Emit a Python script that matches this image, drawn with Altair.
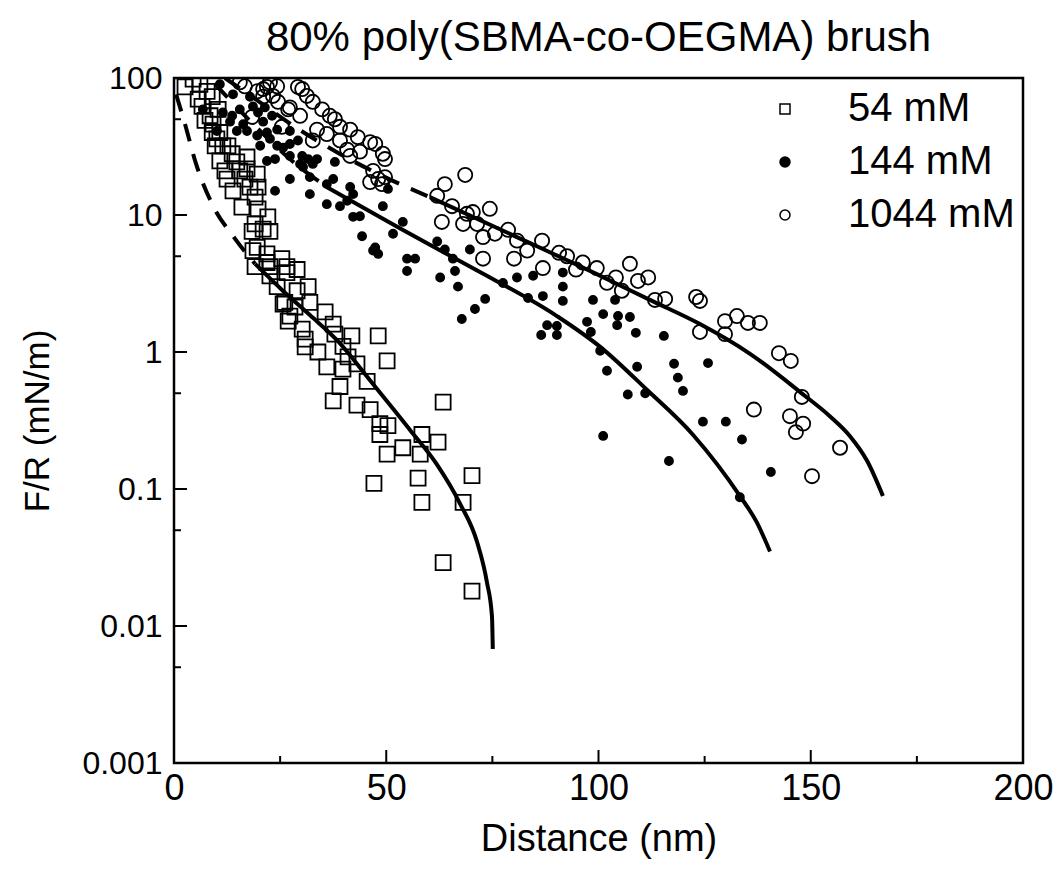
import altair as alt
import pandas as pd

# ---------------- data ----------------
# 54 mM (open squares)
sq_x = [4.5, 2.6, 6.1, 7.8, 5.7, 9.0, 6.6, 10.4, 8.5, 7.3, 9.2, 9.0, 10.8, 10.1, 11.5, 12.7, 9.7,
        13.7, 10.8, 14.8, 17.2, 12.0, 15.5, 17.2, 19.6, 12.5, 16.7, 13.9, 17.9, 19.8, 19.1, 16.0,
        19.8, 22.1, 19.1, 21.0, 18.4, 22.6, 19.6, 21.9, 25.4, 19.1, 22.6, 26.6, 18.6, 21.9, 22.6,
        26.6, 29.0, 24.3, 29.0, 31.6, 26.1, 32.0, 35.6, 27.3, 25.7, 28.5, 26.9, 30.2, 37.5,
        37.9, 30.9, 30.9, 33.9, 39.8, 41.9, 48.1, 36.0, 39.8, 41.0, 43.1, 50.2, 45.5, 39.1, 37.5,
        43.1, 46.2, 63.4, 48.5, 50.4, 48.5, 53.9, 58.4, 62.2, 50.2, 58.0, 70.2, 47.1, 57.5, 58.4,
        68.1, 63.4, 70.2]
sq_y = [98, 86, 90, 80, 70, 73, 62, 59, 53, 49, 46, 40, 40, 36, 32, 32, 32,
        28, 24.8, 24.4, 26.5, 21, 21, 21.7, 19.9, 18.3, 18.3, 15.0, 16.0, 16.0, 13.5, 11.4,
        11.1, 9.7, 8.6, 7.9, 7.6, 7.6, 5.8, 5.2, 4.8, 4.2, 4.2, 4.2, 5.5, 4.5, 3.6,
        3.8, 4.0, 3.0, 2.8, 3.0, 2.3, 2.3, 1.96, 1.83, 2.24, 2.13, 1.68, 1.47, 1.60,
        1.35, 1.24, 1.09, 1.0, 1.1, 1.31, 1.31, 0.78, 0.75, 0.92, 0.82, 0.86, 0.61, 0.56, 0.44,
        0.41, 0.38, 0.43, 0.30, 0.29, 0.25, 0.20, 0.25, 0.22, 0.18, 0.18, 0.125, 0.11, 0.12, 0.080,
        0.080, 0.029, 0.018]

# 144 mM (filled dots)
dot_x = [10.8, 13.9, 17.9, 6.8, 11.5, 13.7, 15.5, 18.6, 13.2, 16.3, 19.8, 21.0, 21.4, 23.1,
         10.1, 14.8, 17.2, 19.6, 21.9, 24.3, 27.3, 22.6, 20.3, 24.3, 25.7, 27.3, 29.2,
         21.9, 23.8, 27.3, 30.2, 31.6, 33.7, 29.7, 32.7, 30.4, 32.0, 27.3, 23.8, 32.0, 36.0,
         37.5, 37.9, 41.5, 42.2, 36.0, 39.1, 40.8, 49.2, 42.2, 43.8, 44.3, 47.4, 48.1, 46.9,
         51.6, 53.9, 50.4, 54.9, 54.9, 56.8, 62.0, 63.8, 65.7, 66.2, 62.7, 66.9, 69.7, 73.3,
         70.9, 67.8, 77.5, 80.8, 84.6, 83.4, 86.9, 91.6, 91.6, 91.6, 98.7, 101.1, 103.9, 104.6,
         107.4, 87.9, 90.2, 86.5, 90.2, 97.3, 98.2, 104.4, 108.8, 115.4, 100.4, 102.0, 109.1,
         117.8, 118.7, 119.9, 125.8, 106.9, 111.0, 101.1, 116.6, 124.6, 130.0, 133.8, 140.6,
         133.3]
dot_y = [90, 76, 73, 59, 56, 53, 59, 62, 48, 46, 56, 48, 61, 53,
         41, 41, 41, 38, 40, 42, 41, 36, 32, 32, 31, 33, 35,
         24.8, 25.6, 27, 27, 25.6, 25.6, 23.6, 23.6, 22.4, 18.9, 18.3, 15.0, 14.2, 16.8,
         18.3, 24.4, 16.0, 14.2, 12.0, 11.6, 12.7, 11.6, 9.7, 9.8, 7.0, 5.8, 5.2, 5.5,
         7.3, 8.9, 15.5, 4.8, 3.9, 4.8, 6.4, 5.6, 4.8, 3.9, 3.5, 3.0, 5.6, 2.44,
         2.06, 1.74, 3.19, 3.5, 3.6, 2.48, 2.56, 3.8, 3.0, 2.36, 2.40, 1.89, 2.40, 1.83,
         1.80, 1.57, 1.55, 1.33, 1.33, 1.66, 1.40, 1.57, 1.38, 1.31, 1.02, 0.73, 0.78,
         0.82, 0.65, 0.52, 0.83, 0.49, 0.50, 0.244, 0.16, 0.31, 0.31, 0.23, 0.133,
         0.087]

# 1044 mM (open circles)
circ_x = [15.5, 16.7, 19.6, 21.0, 22.6, 24.3, 21.9, 23.3, 21.0, 18.4, 24.5, 25.4, 26.9, 27.3,
          29.2, 30.2, 31.3, 32.7, 29.7, 34.9, 33.7, 36.7, 37.9, 36.0, 39.1, 41.5, 32.7, 39.1,
          43.3, 40.8, 43.8, 46.2, 47.4, 49.2, 49.7, 41.5, 46.9, 49.7, 46.2, 48.1, 49.0, 62.0,
          63.8, 68.6, 63.1, 65.5, 68.1, 70.4, 71.4, 74.4, 69.0, 72.8, 75.6, 78.7, 80.8, 83.2,
          80.1, 72.8, 86.9, 86.7, 90.7, 92.6, 94.7, 96.3, 99.6, 102.0, 104.1, 105.5, 107.4,
          109.3, 111.7, 113.3, 115.7, 123.0, 123.9, 123.9, 129.8, 132.6, 135.2, 138.0, 129.8,
          142.5, 145.3, 147.9, 136.6, 145.1, 148.2, 146.5, 156.9, 150.3]
circ_y = [93, 87, 80, 83, 93, 87, 86, 74, 73, 52, 67, 44, 59, 61,
          86, 83, 74, 67, 53, 59, 42, 53, 50, 39, 44, 42, 35, 35,
          37, 30, 29, 34, 33, 28, 25.6, 27, 21, 18.9, 17.4, 18.3, 16.8, 13.8,
          16.8, 19.6, 8.9, 11.6, 8.6, 10.5, 8.6, 11.1, 10.2, 6.9, 7.3, 7.8, 6.5, 5.5,
          4.8, 4.8, 4.1, 6.5, 5.3, 5.0, 4.0, 4.5, 4.1, 3.2, 3.5, 2.8, 4.4,
          3.3, 3.5, 2.40, 2.44, 2.52, 2.36, 1.40, 1.68, 1.83, 1.63, 1.63, 1.35,
          0.98, 0.86, 0.47, 0.38, 0.34, 0.30, 0.26, 0.20, 0.124]

# fitted curves: dashed (extrapolated) and solid parts
fit54_dash_x = [0.5, 2.6, 5.2, 9.0, 14.4, 19.1]
fit54_dash_y = [76, 46, 23.6, 12.0, 6.7, 4.4]
fit54_x = [19.1, 25.7, 32.0, 38.4, 46.2, 55.6, 62.0, 67.4, 71.4, 73.7, 74.9, 75.1]
fit54_y = [4.4, 2.79, 1.86, 1.22, 0.62, 0.27, 0.150, 0.078, 0.041, 0.021, 0.0118, 0.0068]

fit144_dash_x = [9.7, 20.3, 27.3, 36.0]
fit144_dash_y = [90, 41, 25.6, 16.0]
fit144_x = [36.0, 53.2, 69.7, 90.2, 100.4, 111.4, 122.3, 133.3, 137.3, 140.4]
fit144_y = [16.0, 8.0, 4.2, 1.83, 1.09, 0.53, 0.248, 0.089, 0.057, 0.035]

fit1044_dash_x = [12.0, 20.7, 28.5, 39.1, 49.7, 60.3]
fit1044_dash_y = [100, 65, 44, 27.9, 18.9, 13.5]
fit1044_x = [60.3, 79.9, 99.6, 112.1, 123.9, 135.7, 147.5, 154.5, 159.2, 163.3, 167.0]
fit1044_y = [13.5, 7.1, 3.7, 2.40, 1.60, 0.97, 0.51, 0.34, 0.244, 0.16, 0.089]

series_names = ["54 mM", "144 mM", "1044 mM"]
x_major = [0, 50, 100, 150, 200]
x_minor = [25, 75, 125, 175]
y_major = [0.001, 0.01, 0.1, 1, 10, 100]
y_minor = [0.005, 0.05, 0.5, 5, 50]

# ---------------- tables ----------------
sq_df = pd.DataFrame({"d": sq_x, "f": sq_y, "s": series_names[0]})
dot_df = pd.DataFrame({"d": dot_x, "f": dot_y, "s": series_names[1]})
circ_df = pd.DataFrame({"d": circ_x, "f": circ_y, "s": series_names[2]})
solid = pd.concat([
    pd.DataFrame({"d": fit54_x, "f": fit54_y, "c": "54"}),
    pd.DataFrame({"d": fit144_x, "f": fit144_y, "c": "144"}),
    pd.DataFrame({"d": fit1044_x, "f": fit1044_y, "c": "1044"}),
])
dashed = pd.concat([
    pd.DataFrame({"d": fit54_dash_x, "f": fit54_dash_y, "c": "54"}),
    pd.DataFrame({"d": fit144_dash_x, "f": fit144_dash_y, "c": "144"}),
    pd.DataFrame({"d": fit1044_dash_x, "f": fit1044_dash_y, "c": "1044"}),
])

W, H = 849, 685
NARROW = "Liberation Sans Narrow, Arial Narrow, Liberation Sans, Arial"
REG = "Liberation Sans, Arial"

xs = alt.Scale(domain=[0, 200], nice=False, zero=False)
ys = alt.Scale(type="log", domain=[0.001, 100], nice=False)

xax = alt.Axis(values=x_major, title="Distance (nm)", ticks=False, domain=False, grid=False,
               labelFont=NARROW, labelFontSize=36, labelColor="black", labelPadding=8,
               titleFont=NARROW, titleFontSize=38, titleFontWeight="normal", titleColor="black",
               titlePadding=14, labelFlush=False)
yax = alt.Axis(values=y_major, title="F/R (mN/m)", format="~g", ticks=False, domain=False, grid=False,
               labelFont=REG, labelFontSize=32, labelColor="black", labelPadding=12,
               titleFont=REG, titleFontSize=35, titleFontWeight="normal", titleColor="black",
               titlePadding=26)

# the first legend label sits a little to the right in the reference
leg = alt.Legend(title=None, orient="none", legendX=591, legendY=11,
                 labelFont=REG, labelFontSize=40, labelColor="black", labelLimit=400,
                 labelExpr="datum.label == '54 mM' ? '\u2005' + datum.label : datum.label",
                 symbolSize=100, symbolStrokeColor="black", symbolStrokeWidth=1.5,
                 labelOffset=43, rowPadding=13, padding=0)
shape_sc = alt.Scale(domain=series_names, range=["square", "circle", "circle"])
fill_sc = alt.Scale(domain=series_names, range=["transparent", "black", "transparent"])
stroke_sc = alt.Scale(domain=series_names, range=["black", "black", "black"])


def pts_layer(df, size, sw):
    return alt.Chart(df).mark_point(strokeWidth=sw, opacity=1, size=size, clip=True).encode(
        x=alt.X("d:Q", scale=xs, axis=xax),
        y=alt.Y("f:Q", scale=ys, axis=yax),
        shape=alt.Shape("s:N", scale=shape_sc, legend=leg),
        fill=alt.Fill("s:N", scale=fill_sc, legend=leg),
        stroke=alt.Stroke("s:N", scale=stroke_sc, legend=leg),
    )


squares = pts_layer(sq_df, 225, 1.8)
dots = pts_layer(dot_df, 70, 1.5)
circles = pts_layer(circ_df, 200, 1.8)

solid_lines = alt.Chart(solid).mark_line(color="black", strokeWidth=4, interpolate="monotone", clip=True).encode(
    x=alt.X("d:Q", scale=xs, axis=xax),
    y=alt.Y("f:Q", scale=ys, axis=yax),
    detail="c:N",
)
dashed_lines = alt.Chart(dashed).mark_line(color="black", strokeWidth=4, strokeDash=[18, 13],
                                           interpolate="monotone", clip=True).encode(
    x=alt.X("d:Q", scale=xs, axis=xax),
    y=alt.Y("f:Q", scale=ys, axis=yax),
    detail="c:N",
)

ytm = alt.Chart(pd.DataFrame({"f": y_major})).mark_rule(color="black", strokeWidth=2).encode(
    y=alt.Y("f:Q", scale=ys, axis=yax), x=alt.value(0), x2=alt.value(13))
ytn = alt.Chart(pd.DataFrame({"f": y_minor})).mark_rule(color="black", strokeWidth=2).encode(
    y=alt.Y("f:Q", scale=ys, axis=yax), x=alt.value(0), x2=alt.value(7))
xtm = alt.Chart(pd.DataFrame({"d": x_major})).mark_rule(color="black", strokeWidth=2).encode(
    x=alt.X("d:Q", scale=xs, axis=xax), y=alt.value(H), y2=alt.value(H - 13))
xtn = alt.Chart(pd.DataFrame({"d": x_minor})).mark_rule(color="black", strokeWidth=2).encode(
    x=alt.X("d:Q", scale=xs, axis=xax), y=alt.value(H), y2=alt.value(H - 7))

chart = alt.layer(squares, dots, circles, solid_lines, dashed_lines, ytm, ytn, xtm, xtn).properties(
    width=W, height=H,
    padding={"left": 20, "top": 17, "right": 5, "bottom": 5},
    title=alt.TitleParams("80% poly(SBMA-co-OEGMA) brush", font=NARROW, fontSize=42,
                          fontWeight="normal", color="black", offset=2),
).configure(background="white").configure_view(stroke="black", strokeWidth=2.5)

chart.save("out.html", embed_options={"renderer": "svg", "actions": False})
